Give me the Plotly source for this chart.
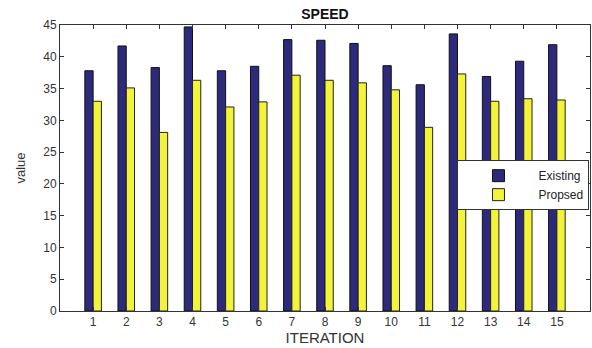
import plotly.graph_objects as go

iterations = list(range(1, 16))
existing = [37.8, 41.7, 38.3, 44.7, 37.8, 38.5, 42.7, 42.6, 42.1, 38.6, 35.6, 43.6, 36.9, 39.3, 41.9]
proposed = [33.0, 35.1, 28.1, 36.3, 32.1, 32.9, 37.1, 36.3, 35.9, 34.8, 28.9, 37.3, 33.0, 33.4, 33.2]
y_ticks = list(range(0, 50, 5))

fig = go.Figure()
fig.add_trace(go.Bar(x=iterations, y=existing, name="Existing",
                     marker=dict(color="#2d2a7c", line=dict(color="#111111", width=1))))
fig.add_trace(go.Bar(x=iterations, y=proposed, name="Propsed",
                     marker=dict(color="#f3f33a", line=dict(color="#222222", width=1))))

axis_common = dict(showgrid=False, zeroline=False, showline=True, linecolor="#333333",
                   linewidth=1, mirror="ticks", ticks="inside", ticklen=4,
                   tickcolor="#333333",
                   tickfont=dict(family="Liberation Sans, Arial", size=12, color="#333333"))

fig.update_layout(
    width=592, height=348,
    margin=dict(l=60, r=2, t=25, b=37),
    paper_bgcolor="white", plot_bgcolor="white",
    barmode="group", bargap=0.5, bargroupgap=0.0,
    title=dict(text="<b>SPEED</b>", x=0.5, xref="paper", xanchor="center",
               y=0.96, yanchor="middle",
               font=dict(family="Liberation Sans, Arial", size=14, color="#111111")),
    xaxis=dict(range=[0, 16], tickvals=iterations, ticktext=[str(i) for i in iterations],
               title=dict(text="ITERATION", standoff=0,
                          font=dict(family="Liberation Sans, Arial", size=15, color="#333333")),
               **axis_common),
    yaxis=dict(range=[0, 45], tickvals=y_ticks,
               title=dict(text="value", standoff=14,
                          font=dict(family="Liberation Sans, Arial", size=13, color="#333333")),
               **axis_common),
    legend=dict(x=0.999, xanchor="right", y=0.44, yanchor="middle",
                bordercolor="#333333", borderwidth=1, bgcolor="white",
                tracegroupgap=0, itemwidth=70,
                font=dict(family="Liberation Sans, Arial", size=12, color="#222222")),
    font=dict(family="Liberation Sans, Arial"),
)

fig.write_html("out.html", config={"displayModeBar": False},
               post_script="document.body.style.margin='0';")
